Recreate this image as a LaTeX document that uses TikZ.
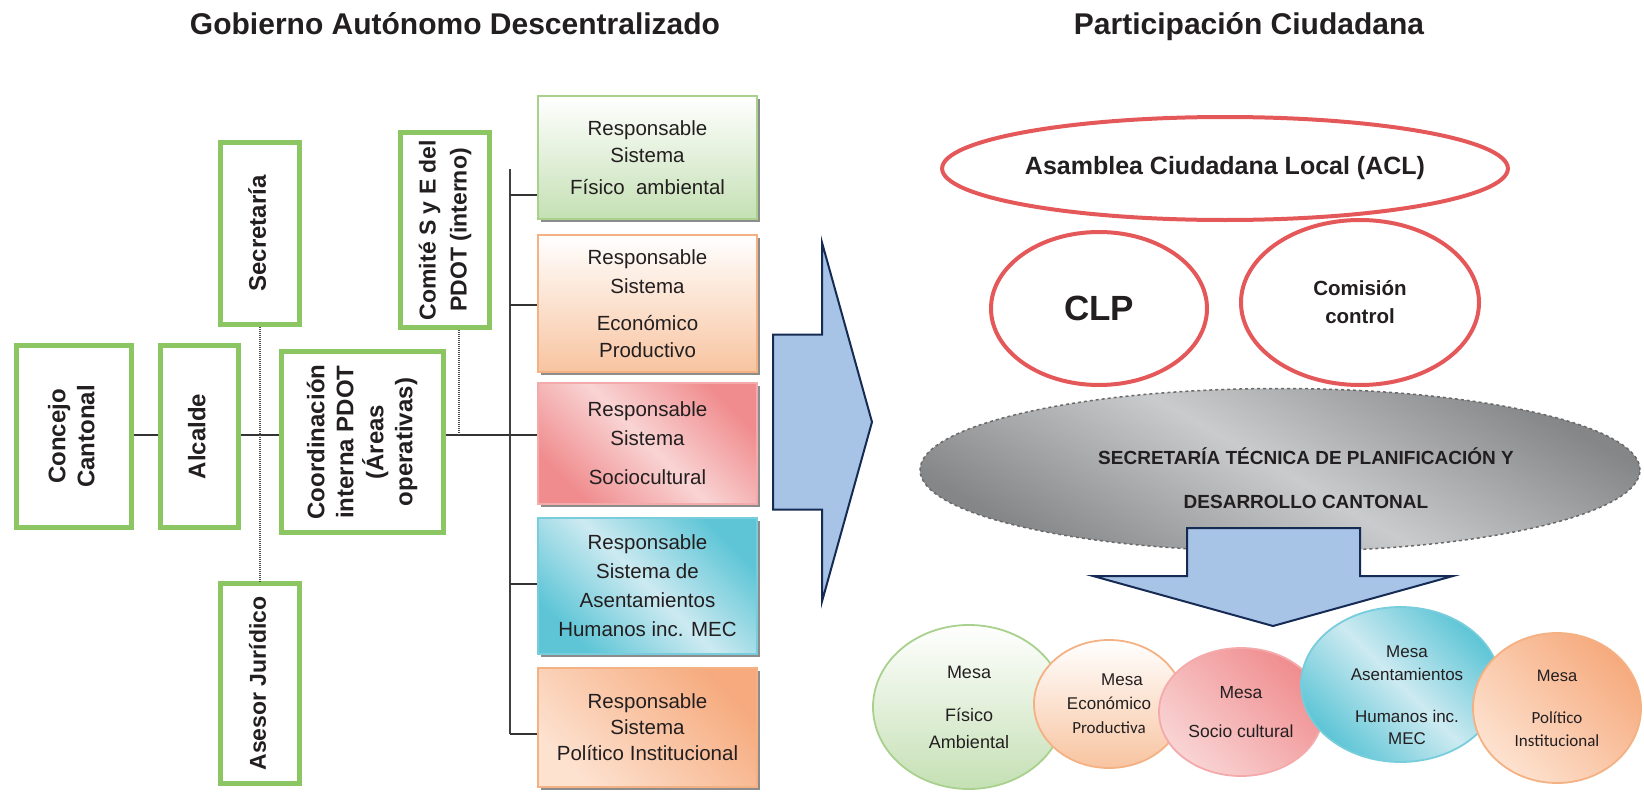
\documentclass[tikz,border=0pt]{standalone}
\usepackage{fontspec}
\setmainfont{Liberation Sans}
\newfontfamily\carl{Carlito}
\usetikzlibrary{shapes.geometric,shadows,calc}
\definecolor{gbox}{RGB}{140,198,99}
\definecolor{txt}{RGB}{35,31,32}
\definecolor{redE}{RGB}{229,88,90}
\definecolor{arrowF}{RGB}{167,196,230}
\definecolor{arrowD}{RGB}{22,43,84}
\definecolor{gOne}{RGB}{197,224,180}
\definecolor{gOneB}{RGB}{169,209,142}
\definecolor{oTwo}{RGB}{248,196,160}
\definecolor{oTwoB}{RGB}{244,177,131}
\definecolor{pinkD}{RGB}{240,140,142}
\definecolor{pinkL}{RGB}{249,212,212}
\definecolor{pinkB}{RGB}{244,170,170}
\definecolor{cyanD}{RGB}{93,197,214}
\definecolor{cyanL}{RGB}{205,234,241}
\definecolor{cyanB}{RGB}{120,205,220}
\definecolor{orD}{RGB}{246,170,125}
\definecolor{orL}{RGB}{253,226,208}
\definecolor{grayD}{RGB}{132,134,136}
\definecolor{grayL}{RGB}{202,203,204}
\definecolor{grayB}{RGB}{105,105,105}
\newcommand{\myvlines}[1]{\rotatebox{90}{\begin{tabular}{@{}c@{}}#1\end{tabular}}}
\begin{document}
\begin{tikzpicture}[x=1pt,y=-1pt,
  headtitle/.style={font=\fontsize{30}{36}\selectfont\bfseries, text=txt, anchor=base, inner sep=0pt},
  greenbox/.style={draw=gbox, line width=4.5pt, fill=white, inner sep=0pt, text=txt,
     font=\fontsize{24}{29}\selectfont\bfseries},
  rbox/.style={line width=1.2pt, minimum width=219pt, inner sep=0pt, align=center,
     font=\fontsize{20.5}{27}\selectfont, text=txt,
     drop shadow={shadow xshift=3pt, shadow yshift=-3pt, fill=black!45, opacity=1}},
  conn/.style={draw=black!80, line width=1.2pt},
  bracketline/.style={draw=black!75, line width=2pt},
  dotline/.style={draw=black!70, line width=1.3pt, dash pattern=on 1pt off 1pt},
  bigarrow/.style={fill=arrowF, draw=arrowD, line width=2pt, line join=miter},
  redell/.style={ellipse, draw=redE, line width=4pt, inner sep=0pt, align=center, text=txt, fill=white},
  mesa/.style={ellipse, line width=1.8pt, inner sep=0pt, align=center, text=txt},
]
\useasboundingbox (0,0) rectangle (1644,792);

% titles
\node[headtitle] (t1) at (455,35) {Gobierno Autónomo Descentralizado};
\node[headtitle] (t2) at (1249,35) {Participación Ciudadana};

% connectors (left)
\coordinate (hub) at (510,435);
\coordinate (bt) at (510,169);
\coordinate (bb) at (510,734);

% green boxes
\node[greenbox, minimum width=115pt, minimum height=182pt] (concejo) at (74,436.5) {\myvlines{Concejo\\Cantonal}};
\node[greenbox, minimum width=78pt, minimum height=182pt] (alcalde) at (199.5,436.5) {\myvlines{Alcalde}};
\node[greenbox, minimum width=162pt, minimum height=181pt] (coord) at (362.5,442) {\myvlines{Coordinación\\interna PDOT\\(Áreas\\operativas)}};
\node[greenbox, minimum width=79pt, minimum height=182pt] (secre) at (260,233.5) {\myvlines{Secretaría}};
\node[greenbox, minimum width=79pt, minimum height=200pt, font=\fontsize{23}{29}\selectfont\bfseries] (asesor) at (260,683.5) {\myvlines{Asesor Jurídico}};
\node[greenbox, minimum width=89pt, minimum height=195pt, font=\fontsize{23}{31}\selectfont\bfseries] (comite) at (445,230) {\myvlines{Comité S y E del\\PDOT (interno)}};

\draw[conn] (concejo.east |- hub) -- (alcalde.west |- hub);
\draw[conn] (alcalde.east |- hub) -- (coord.west |- hub);
\draw[conn] (coord.east |- hub) -- (hub);
\draw[dotline] (secre.south) -- (asesor.north);
\coordinate (cd) at ($(comite.south)+(14,0)$);
\draw[dotline] (cd) -- (cd |- hub);

% responsible boxes
\node[rbox, draw=gOneB, top color=white, bottom color=gOne, minimum height=123pt] (r1) at (647.5,157.5)
  {Responsable\\Sistema\\[5pt]Físico\ \ ambiental};
\node[rbox, draw=oTwoB, top color=white, bottom color=oTwo, minimum height=137pt] (r2) at (647.5,303.5)
  {Responsable\\[2pt]Sistema\\[10pt]Económico\\Productivo};
\node[rbox, draw=pinkB, top color=pinkD, bottom color=pinkD, middle color=pinkL, shading angle=-45, minimum height=121pt] (r3) at (647.5,443.5)
  {Responsable\\[2pt]Sistema\\[12pt]Sociocultural};
\node[rbox, draw=cyanB, top color=cyanD, bottom color=cyanD, middle color=cyanL, shading angle=-45, minimum height=136pt] (r4) at (647.5,586)
  {Responsable\\[2pt]Sistema de\\[2pt]Asentamientos\\[2pt]Humanos inc. MEC};
\node[rbox, draw=oTwoB, top color=orD, bottom color=orL, shading angle=-45, minimum height=119pt] (r5) at (647.5,727.5)
  {Responsable\\[-1pt]Sistema\\[-1pt]Político Institucional};

% bracket
\draw[bracketline] (bt) -- (bb);
\draw[conn] (bt |- 0,195) -- (r1.west |- 0,195);
\draw[conn] (bt |- 0,305) -- (r2.west |- 0,305);
\draw[conn] (hub) -- (r3.west |- hub);
\draw[conn] (bt |- 0,584) -- (r4.west |- 0,584);
\draw[conn] (bt |- 0,734) -- (r5.west |- 0,734);

% big right arrow
\draw[bigarrow] (773,334.5) -- (822,334.5) -- (822,242.5) -- (872,422) -- (822,601.5) -- (822,509.5) -- (773,509.5) -- cycle;

% participation
\node[redell, minimum width=562pt, minimum height=103pt, font=\fontsize{25}{30}\selectfont\bfseries] (acl) at (1225,168.5) {Asamblea Ciudadana Local (ACL)};
\node[redell, minimum width=216pt, minimum height=153pt, font=\fontsize{35}{40}\selectfont\bfseries] (clp) at (1099,308.5) {CLP};
\node[redell, minimum width=238pt, minimum height=165pt, font=\fontsize{20.5}{28}\selectfont\bfseries] (comision) at (1360,302.5) {Comisión\\control};

\node[ellipse, draw=grayB, dashed, line width=1.5pt, top color=grayD, bottom color=grayD, middle color=grayL, shading angle=-30, minimum width=720pt, minimum height=163pt, inner sep=0pt] (sec) at (1280,470) {};
\node[align=center, text=txt, font=\fontsize{19}{44}\selectfont\bfseries] (sect) at (1306,478) {SECRETARÍA TÉCNICA DE PLANIFICACIÓN Y\\DESARROLLO CANTONAL};

% down arrow
\draw[bigarrow] (1187,528) -- (1360,528) -- (1360,576) -- (1453,576) -- (1273,626) -- (1093,576) -- (1187,576) -- cycle;

% mesas
\node[mesa, draw=gOneB, top color=white, bottom color=gOne, minimum width=192pt, minimum height=164pt, font=\fontsize{18}{27}\selectfont] (m1) at (969,707)
  {Mesa\\[16pt]Físico\\Ambiental};
\node[mesa, draw=oTwoB, top color=white, bottom color=oTwo, minimum width=150pt, minimum height=128pt, font=\fontsize{17}{24}\selectfont] (m2) at (1109,704)
  {\hspace*{26pt}Mesa\\Económico\\{\carl Productiva}};
\node[mesa, draw=pinkB, top color=pinkD, bottom color=pinkL, shading angle=-45, minimum width=164pt, minimum height=128pt, font=\fontsize{17.5}{24}\selectfont] (m3) at (1241,712)
  {Mesa\\[15pt]Socio cultural};
\node[mesa, draw=cyanB, top color=cyanD, bottom color=cyanD, middle color=cyanL, shading angle=-45, minimum width=199pt, minimum height=155pt] (m4) at (1400.5,684.5) {};
\node[align=center, text=txt, font=\fontsize{17}{22.5}\selectfont] (m4t) at (1407,695.5)
  {Mesa\\Asentamientos\\[19.5pt]Humanos inc.\\MEC};
\node[mesa, draw=oTwoB, top color=orD, bottom color=orL, shading angle=-45, minimum width=168pt, minimum height=150pt, font=\fontsize{16.5}{23}\selectfont] (m5) at (1557,708)
  {Mesa\\[19pt]{\carl\fontsize{17}{23}\selectfont Político}\\{\carl\fontsize{17}{23}\selectfont Institucional}};
\end{tikzpicture}
\end{document}
